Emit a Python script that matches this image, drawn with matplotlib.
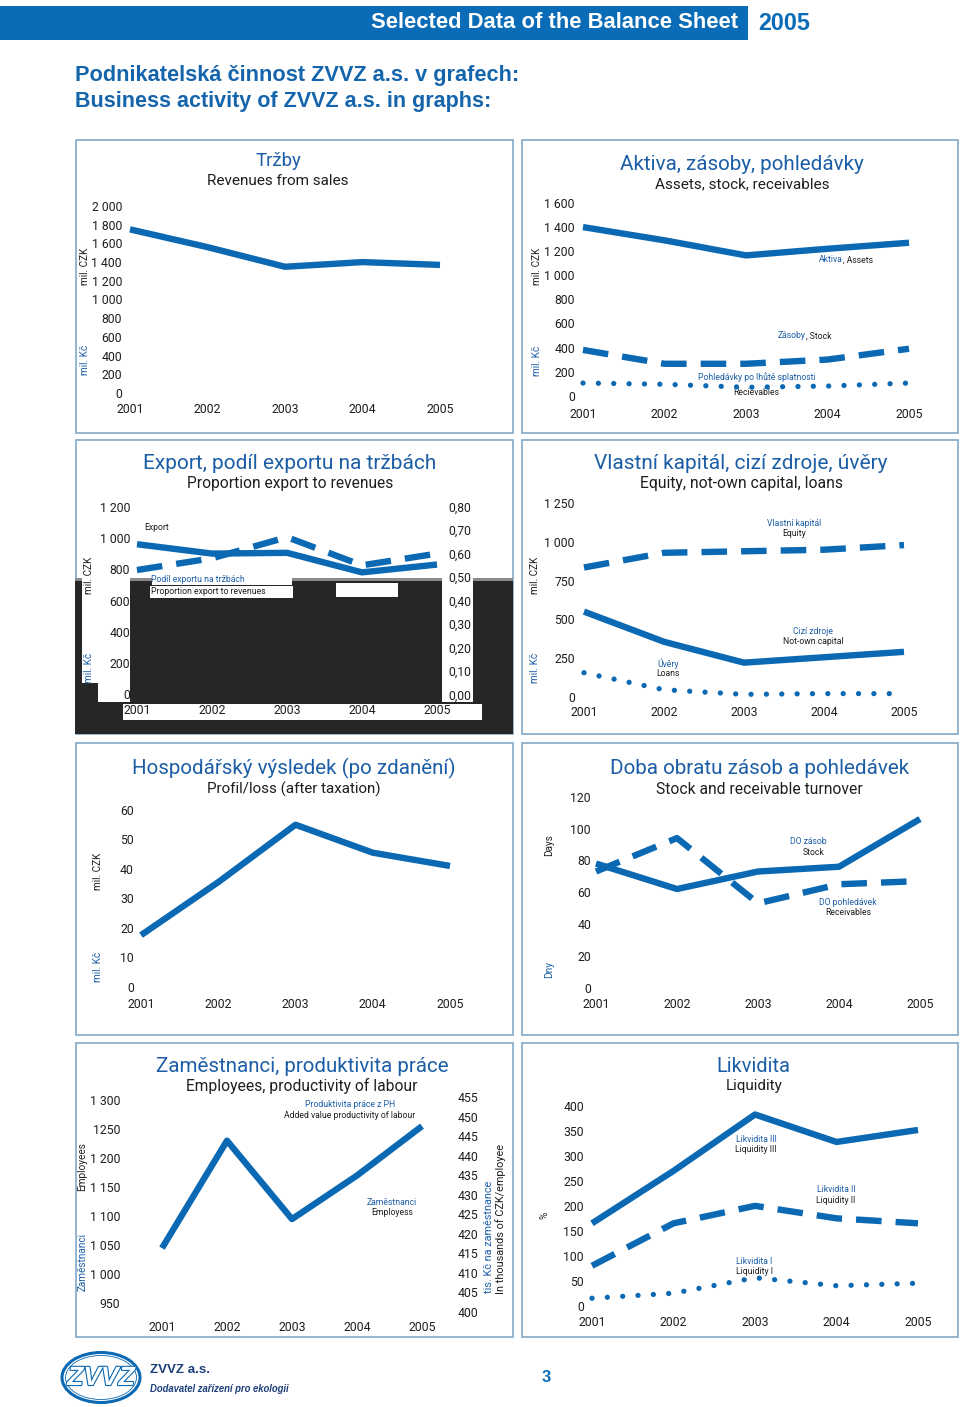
import matplotlib
matplotlib.use('Agg')
import matplotlib.pyplot as plt
from matplotlib.patches import Rectangle, Ellipse
import matplotlib.patheffects as pe

plt.rcParams['font.family'] = ['Roboto', 'DejaVu Sans']

W, H = 960, 1407
fig = plt.figure(figsize=(W / 100, H / 100), dpi=100)
renderer = fig.canvas.get_renderer()

BLUE = '#0b69b3'
TBLUE = '#1c5ea6'
HEAD = '#0a6cb6'
DARK = '#1e1e1e'
BORDER = '#8cb0cd'
NAVY = '#1d3f7c'
BOLDFONT = ['Liberation Sans', 'DejaVu Sans']
TICK = 8.8

# ---------------- data ----------------
years = [2001, 2002, 2003, 2004, 2005]
year_labels = ['2001', '2002', '2003', '2004', '2005']

revenues = [1750, 1560, 1350, 1400, 1370]

assets = [1400, 1290, 1165, 1220, 1270]
stock = [380, 265, 265, 300, 390]
receivables_overdue = [105, 95, 70, 80, 105]

export = [960, 900, 905, 780, 830]
export_share = [0.53, 0.58, 0.67, 0.55, 0.60]

equity = [835, 930, 940, 950, 980]
not_own_capital = [550, 355, 220, 255, 290]
loans = [155, 45, 15, 20, 20]

profit = [17.5, 35.5, 55, 45.5, 41]

stock_turnover = [78, 62, 73, 76, 106]
receivables_turnover = [73, 94, 53, 65, 67]

employees = [1045, 1230, 1095, 1170, 1255]

liquidity3 = [165, 270, 383, 328, 352]
liquidity2 = [80, 165, 200, 175, 165]
liquidity1 = [15, 25, 56, 40, 45]

# tick values / labels
rev_ticks = [0, 200, 400, 600, 800, 1000, 1200, 1400, 1600, 1800, 2000]
rev_tick_labels = ['0', '200', '400', '600', '800', '1 000', '1 200', '1 400', '1 600', '1 800', '2 000']
assets_ticks = [0, 200, 400, 600, 800, 1000, 1200, 1400, 1600]
assets_tick_labels = ['0', '200', '400', '600', '800', '1 000', '1 200', '1 400', '1 600']
export_ticks = [0, 200, 400, 600, 800, 1000, 1200]
export_tick_labels = ['0', '200', '400', '600', '800', '1 000', '1 200']
share_ticks = [0.0, 0.1, 0.2, 0.3, 0.4, 0.5, 0.6, 0.7, 0.8]
share_tick_labels = ['0,00', '0,10', '0,20', '0,30', '0,40', '0,50', '0,60', '0,70', '0,80']
capital_ticks = [0, 250, 500, 750, 1000, 1250]
capital_tick_labels = ['0', '250', '500', '750', '1 000', '1 250']
profit_ticks = [0, 10, 20, 30, 40, 50, 60]
profit_tick_labels = ['0', '10', '20', '30', '40', '50', '60']
turnover_ticks = [0, 20, 40, 60, 80, 100, 120]
turnover_tick_labels = ['0', '20', '40', '60', '80', '100', '120']
empl_ticks = [950, 1000, 1050, 1100, 1150, 1200, 1250, 1300]
empl_tick_labels = ['950', '1 000', '1 050', '1 100', '1 150', '1 200', '1250', '1 300']
prod_ticks = [400, 405, 410, 415, 420, 425, 430, 435, 440, 445, 450, 455]
prod_tick_labels = ['400', '405', '410', '415', '420', '425', '430', '435', '440', '445', '450', '455']
liq_ticks = [0, 50, 100, 150, 200, 250, 300, 350, 400]
liq_tick_labels = ['0', '50', '100', '150', '200', '250', '300', '350', '400']

# ---------------- background / page ----------------
bg = fig.add_axes([0, 0, 1, 1], zorder=0)
bg.set_xlim(0, W)
bg.set_ylim(H, 0)
bg.axis('off')


def fit(t, w):
    bb = t.get_window_extent(renderer)
    t.set_fontsize(t.get_fontsize() * w / bb.width)


# header
bg.add_patch(Rectangle((0, 6), 748, 33.5, color=HEAD, lw=0))
t = bg.text(738, 23, 'Selected Data of the Balance Sheet', ha='right', va='center', color='white',
            fontweight='bold', fontsize=13, family=BOLDFONT)
fit(t, 365)
t = bg.text(758, 23, '2005', ha='left', va='center', color=HEAD, fontweight='bold', fontsize=13, family=BOLDFONT)
fit(t, 52)
t = bg.text(75, 76, 'Podnikatelská činnost ZVVZ a.s. v grafech:', ha='left', va='center', color='#1565ad',
            fontweight='bold', fontsize=13, family=BOLDFONT)
fit(t, 442)
t = bg.text(75, 101, 'Business activity of ZVVZ a.s. in graphs:', ha='left', va='center', color='#1565ad',
            fontweight='bold', fontsize=13, family=BOLDFONT)
fit(t, 414)

# panel borders
rows = [(140, 433), (440, 734), (743, 1035), (1043, 1337)]
cols = [(75.5, 512.5), (522, 958)]
for (y0, y1) in rows:
    for (x0, x1) in cols:
        bg.add_patch(Rectangle((x0, y0), x1 - x0, y1 - y0, fill=False, ec=BORDER, lw=1.3))

# rendering artefact in export panel (black area with white boxes)
bg.add_patch(Rectangle((74.5, 581), 438.5, 153, color='#262626', lw=0))
bg.add_patch(Rectangle((74.5, 578), 438.5, 3, color='#8a8a8a', lw=0))
for (x0, y0, x1, y1) in [(97.7, 578, 130, 701.7), (82, 578, 97.7, 683), (122.7, 704.3, 481.7, 720),
                         (441.7, 578, 473.3, 701.7), (151.7, 578, 291.7, 585), (150, 586, 293.3, 597.7),
                         (336, 582.7, 397.7, 597)]:
    bg.add_patch(Rectangle((x0, y0), x1 - x0, y1 - y0, color='white', lw=0))


def title(cx, y1, t1, w1, y2, t2, w2):
    a = bg.text(cx, y1, t1, ha='center', va='center', color=TBLUE, fontsize=15)
    fit(a, w1)
    b = bg.text(cx, y2, t2, ha='center', va='center', color=DARK, fontsize=10)
    fit(b, w2)


def vlabel(x, y, t, color, size=7.2):
    bg.text(x, y, t, rotation=90, ha='center', va='center', color=color, fontsize=size)


def note(x, y, t, color, size=6.2, ha='center'):
    bg.text(x, y, t, ha=ha, va='center', color=color, fontsize=size)


def px_axes(x0, x1, ytop, ybot, z=2):
    ax = fig.add_axes([x0 / W, 1 - ybot / H, (x1 - x0) / W, (ybot - ytop) / H], zorder=z)
    ax.patch.set_alpha(0)
    for s in ax.spines.values():
        s.set_visible(False)
    ax.tick_params(length=0, labelsize=TICK, colors=DARK)
    return ax


def setup(ax, yt, yl, ylim, xpad, ypad):
    ax.set_xlim(2001, 2005)
    ax.set_ylim(*ylim)
    ax.set_xticks(years, year_labels)
    ax.set_yticks(yt, yl)
    ax.tick_params(axis='x', pad=xpad * 0.72)
    ax.tick_params(axis='y', pad=ypad * 0.72)


def solid(ax, y):
    ax.plot(years, y, color=BLUE, lw=4.6, solid_capstyle='butt', solid_joinstyle='round', clip_on=False)


def dashed(ax, y):
    ax.plot(years, y, color=BLUE, lw=4.6, ls=(0, (4, 2.2)), dash_capstyle='butt', clip_on=False)


def dotted(ax, y):
    ax.plot(years, y, color=BLUE, lw=3.8, ls=(0, (0.01, 2.9)), dash_capstyle='round', clip_on=False)


# ---- 1: Tržby ----
title(278, 161.3, 'Tržby', 46, 181.3, 'Revenues from sales', 142)
vlabel(85, 266, 'mil. CZK', DARK)
vlabel(85, 360, 'mil. Kč', TBLUE)
ax = px_axes(130, 440, 206, 393)
setup(ax, rev_ticks, rev_tick_labels, (0, 2000), 9.5, 8)
solid(ax, revenues)

# ---- 2: Aktiva ----
title(742, 164.7, 'Aktiva, zásoby, pohledávky', 244, 184.7, 'Assets, stock, receivables', 175)
vlabel(536.7, 266, 'mil. CZK', DARK)
vlabel(536.7, 361, 'mil. Kč', TBLUE)
ax = px_axes(583, 909, 203, 395.7)
setup(ax, assets_ticks, assets_tick_labels, (0, 1600), 11.8, 8)
solid(ax, assets)
dashed(ax, stock)
dotted(ax, receivables_overdue)
note(843, 259.7, 'Aktiva', TBLUE, ha='right')
note(843, 259.7, ', Assets', DARK, ha='left')
note(806, 336, 'Zásoby', TBLUE, ha='right')
note(806, 336, ', Stock', DARK, ha='left')
note(756.7, 376.7, 'Pohledávky po lhůtě splatnosti', TBLUE)
note(756.7, 392.5, 'Recievables', DARK)

# ---- 3: Export ----
title(289.7, 463.3, 'Export, podíl exportu na tržbách', 294, 483.3, 'Proportion export to revenues', 206)
vlabel(89, 575, 'mil. CZK', DARK)
vlabel(89, 668, 'mil. Kč', TBLUE)
ax = px_axes(137, 437, 506.7, 694.3)
setup(ax, export_ticks, export_tick_labels, (0, 1200), 10.2, 7)
solid(ax, export)
ax2 = ax.twinx()
ax2.patch.set_alpha(0)
for s in ax2.spines.values():
    s.set_visible(False)
ax2.set_ylim(0, 0.8)
ax2.set_yticks(share_ticks, share_tick_labels)
ax2.tick_params(length=0, labelsize=TICK, colors=DARK, pad=11 * 0.72)
ax2.plot(years, export_share, color=BLUE, lw=4.6, ls=(0, (4, 2.2)), dash_capstyle='butt', clip_on=False)
note(156.7, 527.7, 'Export', DARK)
note(198, 579, 'Podíl exportu na tržbách', TBLUE)
note(208, 591, 'Proportion export to revenues', DARK)

# ---- 4: Vlastní kapitál ----
title(741, 463.3, 'Vlastní kapitál, cizí zdroje, úvěry', 294, 483.3, 'Equity, not-own capital, loans', 203)
vlabel(535, 575, 'mil. CZK', DARK)
vlabel(535, 668, 'mil. Kč', TBLUE)
ax = px_axes(584, 904, 503.3, 696.7)
setup(ax, capital_ticks, capital_tick_labels, (0, 1250), 9.5, 9)
dashed(ax, equity)
solid(ax, not_own_capital)
dotted(ax, loans)
note(794, 523.7, 'Vlastní kapitál', TBLUE)
note(794, 534, 'Equity', DARK)
note(813.3, 631, 'Cizí zdroje', TBLUE)
note(813.3, 641.3, 'Not-own capital', DARK)
note(668.3, 663.7, 'Úvěry', TBLUE)
note(668.3, 673.7, 'Loans', DARK)

# ---- 5: Hospodářský výsledek ----
title(294, 768.3, 'Hospodářský výsledek (po zdanění)', 324, 789.3, 'Profil/loss (after taxation)', 174)
vlabel(98.3, 871.7, 'mil. CZK', DARK)
vlabel(98.3, 966.7, 'mil. Kč', TBLUE)
ax = px_axes(141, 450, 810, 986.7)
setup(ax, profit_ticks, profit_tick_labels, (0, 60), 11.1, 7)
solid(ax, profit)

# ---- 6: Doba obratu ----
title(759.3, 768.3, 'Doba obratu zásob a pohledávek', 300, 789.3, 'Stock and receivable turnover', 205)
vlabel(549.3, 845, 'Days', DARK)
vlabel(549.3, 970, 'Dny', TBLUE)
ax = px_axes(596, 920, 796.7, 987.7)
setup(ax, turnover_ticks, turnover_tick_labels, (0, 120), 10.1, 5)
solid(ax, stock_turnover)
dashed(ax, receivables_turnover)
note(808.3, 841.7, 'DO zásob', TBLUE)
note(813.3, 852.3, 'Stock', DARK)
note(848, 902.3, 'DO pohledávek', TBLUE)
note(848, 912.7, 'Receivables', DARK)

# ---- 7: Zaměstnanci ----
title(302, 1066, 'Zaměstnanci, produktivita práce', 294, 1086, 'Employees, productivity of labour', 230)
vlabel(82.3, 1167, 'Employees', DARK)
vlabel(82.3, 1262, 'Zaměstnanci', TBLUE)
vlabel(489.3, 1237, 'tis. Kč na zaměstnance', TBLUE, 7.8)
vlabel(501, 1219, 'In thousands of CZK/employee', DARK, 7.8)
ax = px_axes(162, 422, 1100, 1303.3)
setup(ax, empl_ticks, empl_tick_labels, (950, 1300), 17.9, 42)
solid(ax, employees)
axr = px_axes(162, 422, 1097.3, 1311.7)
axr.set_xticks([])
axr.set_ylim(400, 455)
axr.yaxis.tick_right()
axr.set_yticks(prod_ticks, prod_tick_labels)
axr.tick_params(axis='y', pad=36 * 0.72)
note(350, 1104.3, 'Produktivita práce z PH', TBLUE)
note(350, 1115, 'Added value productivity of labour', DARK)
note(391.7, 1202.3, 'Zaměstnanci', TBLUE)
note(391.7, 1212.7, 'Employess', DARK)

# ---- 8: Likvidita ----
title(753.7, 1066, 'Likvidita', 74, 1086, 'Liquidity', 57)
vlabel(545, 1215, '%', DARK)
ax = px_axes(592, 918, 1106, 1305.7)
setup(ax, liq_ticks, liq_tick_labels, (0, 400), 10.5, 8)
solid(ax, liquidity3)
dashed(ax, liquidity2)
dotted(ax, liquidity1)
note(756, 1139, 'Likvidita III', TBLUE)
note(756, 1149.3, 'Liquidity III', DARK)
note(836, 1190, 'Likvidita II', TBLUE)
note(836, 1200.3, 'Liquidity II', DARK)
note(754.3, 1261, 'Likvidita I', TBLUE)
note(754.3, 1271.7, 'Liquidity I', DARK)

# ---------------- footer ----------------
bg.add_patch(Ellipse((101, 1377.5), 78, 50, fill=False, ec=BLUE, lw=2.2))
bg.add_patch(Ellipse((101, 1377.5), 71, 44, fill=False, ec=BLUE, lw=0.6))
lt = bg.text(101, 1378, 'ZVVZ', ha='center', va='center', color='white', fontsize=19, fontweight='bold',
             fontstyle='italic', family=BOLDFONT)
lt.set_path_effects([pe.Stroke(linewidth=1.6, foreground=BLUE), pe.Normal()])
t = bg.text(150, 1370, 'ZVVZ a.s.', ha='left', va='center', color=NAVY, fontweight='bold', fontsize=11,
            family=BOLDFONT)
fit(t, 60)
t = bg.text(150, 1389, 'Dodavatel zařízení pro ekologii', ha='left', va='center', color=NAVY,
            fontweight='bold', fontstyle='italic', fontsize=7, family=BOLDFONT)
fit(t, 141)
bg.text(546, 1378, '3', ha='center', va='center', color=HEAD, fontweight='bold', fontsize=12, family=BOLDFONT)

fig.savefig('out.png', dpi=100)
